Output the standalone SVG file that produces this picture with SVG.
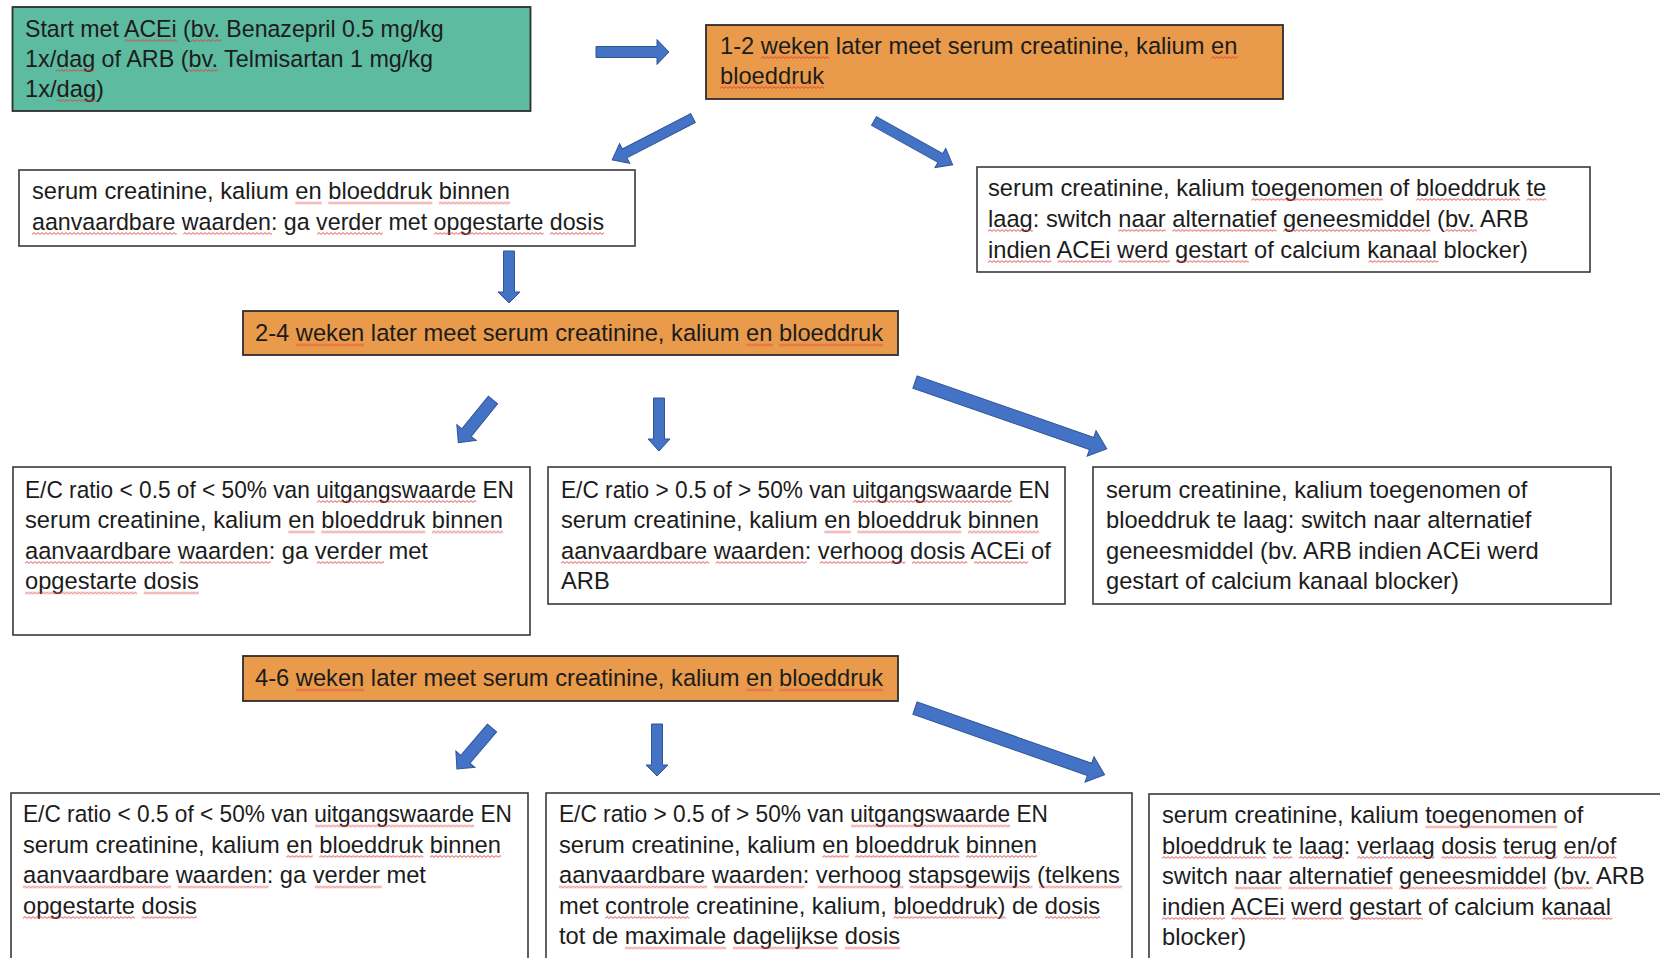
<svg xmlns="http://www.w3.org/2000/svg" width="1660" height="958" viewBox="0 0 1660 958">
<style>
.t{font-family:"Liberation Sans",Arial,sans-serif;font-size:23.7px;fill:#1c1c1c}
.bw{fill:#ffffff;stroke:#3a3a3a;stroke-width:1.6}
.bo{fill:#E99B4B;stroke:#2e2e2e;stroke-width:1.8}
.bg{fill:#5DBBA0;stroke:#2e2e2e;stroke-width:1.8}
.ar{fill:#4472C4;stroke:#2F5597;stroke-width:1}
.wv{fill:url(#wave)}
</style>
<defs>
  <pattern id="wave" patternUnits="userSpaceOnUse" width="4" height="3">
    <path d="M0,2.4 L2,0.6 L4,2.4" fill="none" stroke="#e23b3b" stroke-width="0.9"/>
  </pattern>
</defs>
<rect width="1660" height="958" fill="#ffffff"/>

<g id="connectors">
  <polygon class="ar" points="0,-5.5 61,-5.5 61,-12.5 73,0 61,12.5 61,5.5 0,5.5" transform="translate(596,52)"/>
  <polygon class="ar" points="0,-5 77,-5 77,-11 91,0 77,11 77,5 0,5" transform="translate(693,118) rotate(152.6)"/>
  <polygon class="ar" points="0,-5 76,-5 76,-11 90,0 76,11 76,5 0,5" transform="translate(874,121) rotate(29.1)"/>
  <polygon class="ar" points="0,-5.5 41,-5.5 41,-11 52,0 41,11 41,5.5 0,5.5" transform="translate(509,251) rotate(90)"/>
  <polygon class="ar" points="0,-6 42,-6 42,-12.5 55,0 42,12.5 42,6 0,6" transform="translate(493,400) rotate(129.1)"/>
  <polygon class="ar" points="0,-5.5 41,-5.5 41,-11 53,0 41,11 41,5.5 0,5.5" transform="translate(659,398) rotate(90)"/>
  <polygon class="ar" points="0,-6.5 187,-6.5 187,-13.5 203,0 187,13.5 187,6.5 0,6.5" transform="translate(915,382) rotate(19.2)"/>
  <polygon class="ar" points="0,-6 41,-6 41,-12.5 54,0 41,12.5 41,6 0,6" transform="translate(492,728) rotate(130.5)"/>
  <polygon class="ar" points="0,-5.5 41,-5.5 41,-11 52,0 41,11 41,5.5 0,5.5" transform="translate(657,724) rotate(90)"/>
  <polygon class="ar" points="0,-6.5 185,-6.5 185,-13.5 201,0 185,13.5 185,6.5 0,6.5" transform="translate(915,708) rotate(19.4)"/>
</g>

<g id="start">
  <rect class="bg" x="12.5" y="7" width="518" height="104"/>
  <text class="t" x="25" y="36.5" textLength="418.6" lengthAdjust="spacingAndGlyphs">Start met ACEi (bv. Benazepril 0.5 mg/kg</text>
  <text class="t" x="25" y="66.5" textLength="408" lengthAdjust="spacingAndGlyphs">1x/dag of ARB (bv. Telmisartan 1 mg/kg</text>
  <text class="t" x="25" y="96.5">1x/dag)</text>
  <rect class="wv" transform="translate(124.5,39)" width="52.3" height="3"/>
  <rect class="wv" transform="translate(190.9,39)" width="30.6" height="3"/>
  <rect class="wv" transform="translate(55.7,69)" width="38.3" height="3"/>
  <rect class="wv" transform="translate(187.4,69)" width="30.7" height="3"/>
  <rect class="wv" transform="translate(56.6,99)" width="39.5" height="3"/>
</g>

<g id="measure1">
  <rect class="bo" x="706" y="25" width="577" height="74"/>
  <text class="t" x="720" y="53.5">1-2 weken later meet serum creatinine, kalium en</text>
  <text class="t" x="720" y="83.5">bloeddruk</text>
  <rect class="wv" transform="translate(760.8,56)" width="68.5" height="3"/>
  <rect class="wv" transform="translate(1211.3,56)" width="26.4" height="3"/>
  <rect class="wv" transform="translate(720,86)" width="104.1" height="3"/>
</g>

<g id="ok1">
  <rect class="bw" x="19" y="170" width="616" height="76"/>
  <text class="t" x="32" y="199">serum creatinine, kalium en bloeddruk binnen</text>
  <text class="t" x="32" y="229.5" textLength="572" lengthAdjust="spacingAndGlyphs">aanvaardbare waarden: ga verder met opgestarte dosis</text>
  <rect class="wv" transform="translate(295.4,201.5)" width="26.4" height="3"/>
  <rect class="wv" transform="translate(328.3,201.5)" width="104.1" height="3"/>
  <rect class="wv" transform="translate(439,201.5)" width="71.1" height="3"/>
  <rect class="wv" transform="translate(32,232)" width="144.7" height="3"/>
  <rect class="wv" transform="translate(183.2,232)" width="88.8" height="3"/>
  <rect class="wv" transform="translate(317,232)" width="65.7" height="3"/>
  <rect class="wv" transform="translate(434.2,232)" width="109.4" height="3"/>
  <rect class="wv" transform="translate(549.9,232)" width="54.1" height="3"/>
</g>

<g id="switch1">
  <rect class="bw" x="977" y="167" width="613" height="105"/>
  <text class="t" x="988" y="195.5">serum creatinine, kalium toegenomen of bloeddruk te</text>
  <text class="t" x="988" y="226.5">laag: switch naar alternatief geneesmiddel (bv. ARB</text>
  <text class="t" x="988" y="257.5">indien ACEi werd gestart of calcium kanaal blocker)</text>
  <rect class="wv" transform="translate(1251.4,198)" width="131.7" height="3"/>
  <rect class="wv" transform="translate(1416.1,198)" width="104.1" height="3"/>
  <rect class="wv" transform="translate(1526.7,198)" width="19.8" height="3"/>
  <rect class="wv" transform="translate(988,229)" width="44.8" height="3"/>
  <rect class="wv" transform="translate(1118.4,229)" width="47.4" height="3"/>
  <rect class="wv" transform="translate(1172.4,229)" width="104.1" height="3"/>
  <rect class="wv" transform="translate(1283.1,229)" width="147.5" height="3"/>
  <rect class="wv" transform="translate(1445.1,229)" width="31.6" height="3"/>
  <rect class="wv" transform="translate(988,260)" width="63.2" height="3"/>
  <rect class="wv" transform="translate(1057.8,260)" width="54" height="3"/>
  <rect class="wv" transform="translate(1118.4,260)" width="51.4" height="3"/>
  <rect class="wv" transform="translate(1176.3,260)" width="72.5" height="3"/>
  <rect class="wv" transform="translate(1368.6,260)" width="69.8" height="3"/>
</g>

<g id="measure2">
  <rect class="bo" x="243" y="311" width="655" height="44"/>
  <text class="t" x="255" y="341">2-4 weken later meet serum creatinine, kalium en bloeddruk</text>
  <rect class="wv" transform="translate(295.8,343.5)" width="68.5" height="3"/>
  <rect class="wv" transform="translate(746.3,343.5)" width="26.4" height="3"/>
  <rect class="wv" transform="translate(779.2,343.5)" width="104.1" height="3"/>
</g>

<g id="low2">
  <rect class="bw" x="13" y="467" width="517" height="168"/>
  <text class="t" x="25" y="497.5" textLength="489" lengthAdjust="spacingAndGlyphs">E/C ratio &lt; 0.5 of &lt; 50% van uitgangswaarde EN</text>
  <text class="t" x="25" y="528">serum creatinine, kalium en bloeddruk binnen</text>
  <text class="t" x="25" y="558.5">aanvaardbare waarden: ga verder met</text>
  <text class="t" x="25" y="589">opgestarte dosis</text>
  <rect class="wv" transform="translate(317,500)" width="159.2" height="3"/>
  <rect class="wv" transform="translate(288.4,530.5)" width="26.4" height="3"/>
  <rect class="wv" transform="translate(321.3,530.5)" width="104.1" height="3"/>
  <rect class="wv" transform="translate(432,530.5)" width="71.1" height="3"/>
  <rect class="wv" transform="translate(25,561)" width="148.1" height="3"/>
  <rect class="wv" transform="translate(179.7,561)" width="90.9" height="3"/>
  <rect class="wv" transform="translate(316.7,561)" width="67.2" height="3"/>
  <rect class="wv" transform="translate(25,591.5)" width="112" height="3"/>
  <rect class="wv" transform="translate(143.6,591.5)" width="55.3" height="3"/>
</g>

<g id="high2">
  <rect class="bw" x="548" y="467" width="517" height="137"/>
  <text class="t" x="561" y="497.5" textLength="489" lengthAdjust="spacingAndGlyphs">E/C ratio &gt; 0.5 of &gt; 50% van uitgangswaarde EN</text>
  <text class="t" x="561" y="528">serum creatinine, kalium en bloeddruk binnen</text>
  <text class="t" x="561" y="558.5">aanvaardbare waarden: verhoog dosis ACEi of</text>
  <text class="t" x="561" y="589">ARB</text>
  <rect class="wv" transform="translate(853,500)" width="159.2" height="3"/>
  <rect class="wv" transform="translate(824.4,530.5)" width="26.4" height="3"/>
  <rect class="wv" transform="translate(857.3,530.5)" width="104.1" height="3"/>
  <rect class="wv" transform="translate(968,530.5)" width="71.1" height="3"/>
  <rect class="wv" transform="translate(561,561)" width="148.1" height="3"/>
  <rect class="wv" transform="translate(715.7,561)" width="90.9" height="3"/>
  <rect class="wv" transform="translate(819.8,561)" width="85.6" height="3"/>
  <rect class="wv" transform="translate(912,561)" width="55.3" height="3"/>
  <rect class="wv" transform="translate(973.9,561)" width="54" height="3"/>
</g>

<g id="switch2">
  <rect class="bw" x="1093" y="467" width="518" height="137"/>
  <text class="t" x="1106" y="497.5">serum creatinine, kalium toegenomen of</text>
  <text class="t" x="1106" y="528">bloeddruk te laag: switch naar alternatief</text>
  <text class="t" x="1106" y="558.5">geneesmiddel (bv. ARB indien ACEi werd</text>
  <text class="t" x="1106" y="589">gestart of calcium kanaal blocker)</text>
</g>

<g id="measure3">
  <rect class="bo" x="243" y="656" width="655" height="45"/>
  <text class="t" x="255" y="686">4-6 weken later meet serum creatinine, kalium en bloeddruk</text>
  <rect class="wv" transform="translate(295.8,688.5)" width="68.5" height="3"/>
  <rect class="wv" transform="translate(746.3,688.5)" width="26.4" height="3"/>
  <rect class="wv" transform="translate(779.2,688.5)" width="104.1" height="3"/>
</g>

<g id="low3">
  <rect class="bw" x="11" y="793" width="517" height="200"/>
  <text class="t" x="23" y="822" textLength="489" lengthAdjust="spacingAndGlyphs">E/C ratio &lt; 0.5 of &lt; 50% van uitgangswaarde EN</text>
  <text class="t" x="23" y="852.5">serum creatinine, kalium en bloeddruk binnen</text>
  <text class="t" x="23" y="883">aanvaardbare waarden: ga verder met</text>
  <text class="t" x="23" y="913.5">opgestarte dosis</text>
  <rect class="wv" transform="translate(315,824.5)" width="159.2" height="3"/>
  <rect class="wv" transform="translate(286.4,855)" width="26.4" height="3"/>
  <rect class="wv" transform="translate(319.3,855)" width="104.1" height="3"/>
  <rect class="wv" transform="translate(430,855)" width="71.1" height="3"/>
  <rect class="wv" transform="translate(23,885.5)" width="148.1" height="3"/>
  <rect class="wv" transform="translate(177.7,885.5)" width="90.9" height="3"/>
  <rect class="wv" transform="translate(314.7,885.5)" width="67.2" height="3"/>
  <rect class="wv" transform="translate(23,916)" width="112" height="3"/>
  <rect class="wv" transform="translate(141.6,916)" width="55.3" height="3"/>
</g>

<g id="high3">
  <rect class="bw" x="546" y="793" width="586" height="200"/>
  <text class="t" x="559" y="822" textLength="489" lengthAdjust="spacingAndGlyphs">E/C ratio &gt; 0.5 of &gt; 50% van uitgangswaarde EN</text>
  <text class="t" x="559" y="852.5">serum creatinine, kalium en bloeddruk binnen</text>
  <text class="t" x="559" y="883">aanvaardbare waarden: verhoog stapsgewijs (telkens</text>
  <text class="t" x="559" y="913.5">met controle creatinine, kalium, bloeddruk) de dosis</text>
  <text class="t" x="559" y="944">tot de maximale dagelijkse dosis</text>
  <rect class="wv" transform="translate(851,824.5)" width="159.2" height="3"/>
  <rect class="wv" transform="translate(822.4,855)" width="26.4" height="3"/>
  <rect class="wv" transform="translate(855.3,855)" width="104.1" height="3"/>
  <rect class="wv" transform="translate(966,855)" width="71.1" height="3"/>
  <rect class="wv" transform="translate(559,885.5)" width="148.1" height="3"/>
  <rect class="wv" transform="translate(713.7,885.5)" width="90.9" height="3"/>
  <rect class="wv" transform="translate(817.8,885.5)" width="85.6" height="3"/>
  <rect class="wv" transform="translate(910,885.5)" width="122.5" height="3"/>
  <rect class="wv" transform="translate(1039.1,885.5)" width="83" height="3"/>
  <rect class="wv" transform="translate(605.1,916)" width="84.3" height="3"/>
  <rect class="wv" transform="translate(893.6,916)" width="112" height="3"/>
  <rect class="wv" transform="translate(1045,916)" width="55.3" height="3"/>
  <rect class="wv" transform="translate(624.9,946.5)" width="101.4" height="3"/>
  <rect class="wv" transform="translate(732.9,946.5)" width="105.4" height="3"/>
  <rect class="wv" transform="translate(844.8,946.5)" width="55.3" height="3"/>
</g>

<g id="switch3">
  <rect class="bw" x="1149" y="794" width="560" height="200"/>
  <text class="t" x="1162" y="823">serum creatinine, kalium toegenomen of</text>
  <text class="t" x="1162" y="853.5">bloeddruk te laag: verlaag dosis terug en/of</text>
  <text class="t" x="1162" y="884">switch naar alternatief geneesmiddel (bv. ARB</text>
  <text class="t" x="1162" y="914.5">indien ACEi werd gestart of calcium kanaal</text>
  <text class="t" x="1162" y="945">blocker)</text>
  <rect class="wv" transform="translate(1425.4,825.5)" width="131.7" height="3"/>
  <rect class="wv" transform="translate(1162,856)" width="104.1" height="3"/>
  <rect class="wv" transform="translate(1272.7,856)" width="19.8" height="3"/>
  <rect class="wv" transform="translate(1299,856)" width="44.8" height="3"/>
  <rect class="wv" transform="translate(1357,856)" width="77.7" height="3"/>
  <rect class="wv" transform="translate(1441.3,856)" width="55.3" height="3"/>
  <rect class="wv" transform="translate(1503.2,856)" width="54" height="3"/>
  <rect class="wv" transform="translate(1563.8,856)" width="52.7" height="3"/>
  <rect class="wv" transform="translate(1234.4,886.5)" width="47.4" height="3"/>
  <rect class="wv" transform="translate(1288.4,886.5)" width="104.1" height="3"/>
  <rect class="wv" transform="translate(1399.1,886.5)" width="147.5" height="3"/>
  <rect class="wv" transform="translate(1561.1,886.5)" width="31.6" height="3"/>
  <rect class="wv" transform="translate(1162,917)" width="63.2" height="3"/>
  <rect class="wv" transform="translate(1231.8,917)" width="54" height="3"/>
  <rect class="wv" transform="translate(1292.4,917)" width="51.4" height="3"/>
  <rect class="wv" transform="translate(1350.3,917)" width="72.5" height="3"/>
  <rect class="wv" transform="translate(1542.6,917)" width="69.8" height="3"/>
</g>
</svg>
